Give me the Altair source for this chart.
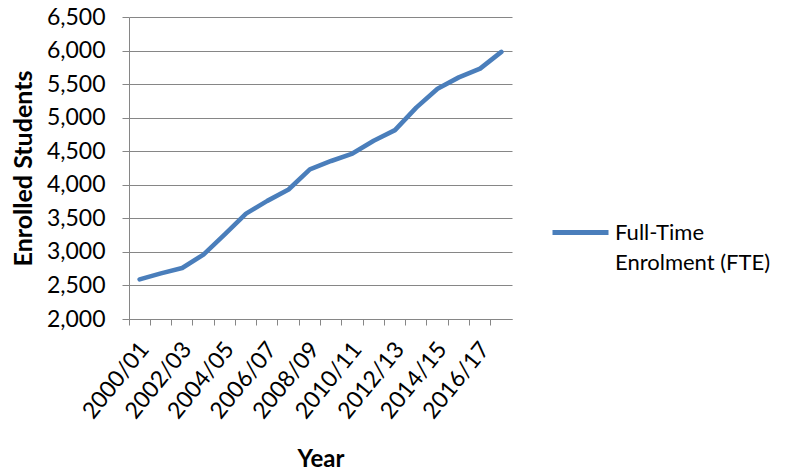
import altair as alt
import pandas as pd

years = ["2000/01", "2001/02", "2002/03", "2003/04", "2004/05", "2005/06",
         "2006/07", "2007/08", "2008/09", "2009/10", "2010/11", "2011/12",
         "2012/13", "2013/14", "2014/15", "2015/16", "2016/17", "2017/18"]
fte = [2590, 2680, 2760, 2960, 3260, 3570, 3760, 3930, 4230, 4355,
       4465, 4655, 4815, 5150, 5430, 5600, 5730, 5980]
series_name = "Full-Time Enrolment (FTE)"
y_ticks = list(range(2000, 6501, 500))

df = pd.DataFrame({"year": years, "value": fte, "series": series_name})

FONT = "Lato"
GRID = "#868686"
BLUE = "#4a7ebb"

xscale = alt.Scale(type="band", paddingInner=0, paddingOuter=0, domain=years)
yscale = alt.Scale(domain=[2000, 6500], nice=False, zero=False)

base = alt.Chart(df)

line = base.mark_line(strokeWidth=4.6, strokeCap="round", strokeJoin="round").encode(
    x=alt.X("year:N", scale=xscale, bandPosition=0.5,
            axis=alt.Axis(values=years[::2], labelAngle=-51, labelAlign="right",
                          labelBaseline="middle", ticks=False, domain=False,
                          grid=False, title="Year", labelFont=FONT,
                          labelFontSize=23, labelColor="#000000",
                          titleFont=FONT, titleFontSize=24, titleFontWeight="bold",
                          titleColor="#000000", titleY=140, titleBaseline="middle",
                          labelPadding=26, labelOffset=5, orient="bottom")),
    y=alt.Y("value:Q", scale=yscale,
            axis=alt.Axis(values=y_ticks, format=",.0f", grid=True, gridColor=GRID,
                          gridWidth=1, domainColor=GRID, tickColor=GRID,
                          tickSize=7, labelFont=FONT, labelFontSize=23,
                          labelColor="#000000", labelPadding=17,
                          title="Enrolled Students", titleFont=FONT,
                          titleFontSize=25, titleFontWeight="bold",
                          titleColor="#000000", titleX=-106, titleY=151,
                          titleBaseline="middle", titleAngle=270)),
    color=alt.Color("series:N", scale=alt.Scale(range=[BLUE]),
                    legend=alt.Legend(orient="none", legendX=421, legendY=185,
                                      title=None, symbolType="stroke",
                                      symbolSize=3136, symbolStrokeWidth=5,
                                      labelFont=FONT, labelFontSize=22,
                                      labelColor="#000000", labelLimit=300,
                                      labelExpr="split(replace(datum.label, 'Time ', 'Time|'), '|')")),
)

ticks_layer = base.mark_point(opacity=0).encode(
    x=alt.X("year:N", scale=xscale,
            axis=alt.Axis(values=years, bandPosition=0, labels=False, title=None,
                          ticks=True, tickSize=6, tickColor=GRID, domain=True,
                          domainColor=GRID, grid=False, orient="bottom")),
)

chart = alt.layer(ticks_layer, line).resolve_axis(x="independent").properties(
    width=383, height=302,
    autosize=alt.AutoSizeParams(type="none"),
    padding={"left": 121, "top": 9, "right": 270, "bottom": 154},
).configure(style={"guide-label": {"lineHeight": 30}}).configure_view(stroke=None)

chart.save("out.html", embed_options={"renderer": "svg", "actions": False})
